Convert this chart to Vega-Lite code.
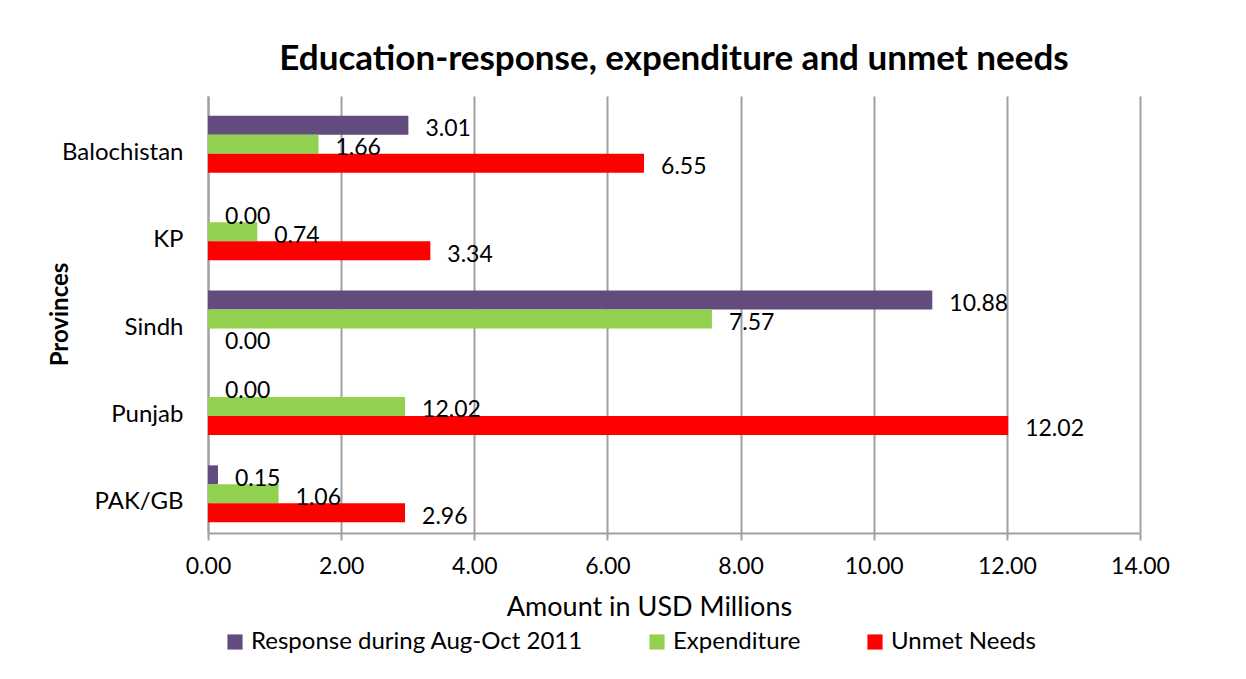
{
  "$schema": "https://vega.github.io/schema/vega-lite/v6.json",
  "width": 932,
  "height": 437,
  "autosize": {"type": "none"},
  "padding": {"left": 208, "top": 96, "right": 106, "bottom": 146},
  "background": "white",
  "config": {
    "font": "Lato",
    "view": {"stroke": null}
  },
  "title": {
    "text": "Education-response, expenditure and unmet needs",
    "font": "Lato",
    "fontSize": 35,
    "fontWeight": "bold",
    "color": "#000000",
    "anchor": "middle",
    "frame": "group",
    "offset": 19
  },
  "data": {
    "values": [
      {"province": "Balochistan", "series": "Response during Aug-Oct 2011", "value": 3.01, "label": "3.01"},
      {"province": "Balochistan", "series": "Expenditure", "value": 1.66, "label": "1.66"},
      {"province": "Balochistan", "series": "Unmet Needs", "value": 6.55, "label": "6.55"},
      {"province": "KP", "series": "Response during Aug-Oct 2011", "value": 0.0, "label": "0.00"},
      {"province": "KP", "series": "Expenditure", "value": 0.74, "label": "0.74"},
      {"province": "KP", "series": "Unmet Needs", "value": 3.34, "label": "3.34"},
      {"province": "Sindh", "series": "Response during Aug-Oct 2011", "value": 10.88, "label": "10.88"},
      {"province": "Sindh", "series": "Expenditure", "value": 7.57, "label": "7.57"},
      {"province": "Sindh", "series": "Unmet Needs", "value": 0.0, "label": "0.00"},
      {"province": "Punjab", "series": "Response during Aug-Oct 2011", "value": 0.0, "label": "0.00"},
      {"province": "Punjab", "series": "Expenditure", "value": 2.96, "label": "12.02"},
      {"province": "Punjab", "series": "Unmet Needs", "value": 12.02, "label": "12.02"},
      {"province": "PAK/GB", "series": "Response during Aug-Oct 2011", "value": 0.15, "label": "0.15"},
      {"province": "PAK/GB", "series": "Expenditure", "value": 1.06, "label": "1.06"},
      {"province": "PAK/GB", "series": "Unmet Needs", "value": 2.96, "label": "2.96"}
    ]
  },
  "encoding": {
    "y": {
      "field": "province",
      "type": "nominal",
      "sort": ["Balochistan", "KP", "Sindh", "Punjab", "PAK/GB"],
      "scale": {"paddingInner": 0, "paddingOuter": 0},
      "axis": {
        "title": "Provinces",
        "titleFont": "Lato",
        "titleFontSize": 24,
        "titleFontWeight": "bold",
        "titleColor": "#000000",
        "titleX": -148,
        "titleY": 218,
        "titleAngle": -90,
        "titleAlign": "center",
        "titleBaseline": "middle",
        "labelFont": "Lato",
        "labelFontSize": 24,
        "labelColor": "#000000",
        "labelPadding": 25,
        "labelOffset": 13,
        "ticks": false,
        "domainColor": "#A0A0A0",
        "domainWidth": 2,
        "grid": false
      }
    },
    "yOffset": {
      "field": "series",
      "type": "nominal",
      "sort": ["Response during Aug-Oct 2011", "Expenditure", "Unmet Needs"],
      "scale": {"paddingInner": 0, "paddingOuter": 0.8, "align": 0.65}
    }
  },
  "layer": [
    {
      "mark": {"type": "bar"},
      "encoding": {
        "x": {
          "field": "value",
          "type": "quantitative",
          "scale": {"domain": [0, 14], "nice": false},
          "axis": {
            "title": "Amount in USD Millions",
            "titleFont": "Lato",
            "titleFontSize": 27,
            "titleFontWeight": "normal",
            "titleColor": "#000000",
            "titlePadding": 16,
            "titleX": 441,
            "labelFont": "Lato",
            "labelFontSize": 23,
            "labelColor": "#000000",
            "labelPadding": 15,
            "labelFlush": false,
            "format": ".2f",
            "values": [0, 2, 4, 6, 8, 10, 12, 14],
            "tickColor": "#A0A0A0",
            "tickWidth": 2,
            "tickSize": 7,
            "domainColor": "#A0A0A0",
            "domainWidth": 2,
            "grid": true,
            "gridColor": "#A0A0A0",
            "gridWidth": 2
          }
        },
        "color": {
          "field": "series",
          "type": "nominal",
          "sort": ["Response during Aug-Oct 2011", "Expenditure", "Unmet Needs"],
          "scale": {
            "domain": ["Response during Aug-Oct 2011", "Expenditure", "Unmet Needs"],
            "range": ["#624C7E", "#92D050", "#FF0000"]
          },
          "legend": {
            "title": null,
            "orient": "none",
            "legendX": 15,
            "legendY": 534,
            "direction": "horizontal",
            "symbolType": "square",
            "symbolSize": 230,
            "symbolStrokeWidth": 0,
            "labelFont": "Lato",
            "labelFontSize": 24,
            "labelColor": "#000000",
            "labelOffset": 4,
            "columnPadding": 62,
            "labelLimit": 500
          }
        }
      }
    },
    {
      "mark": {
        "type": "text",
        "align": "left",
        "baseline": "middle",
        "dx": 17,
        "dy": 4,
        "font": "Lato",
        "fontSize": 23,
        "color": "#000000"
      },
      "encoding": {
        "x": {"field": "value", "type": "quantitative"},
        "text": {"field": "label", "type": "nominal"}
      }
    }
  ]
}
